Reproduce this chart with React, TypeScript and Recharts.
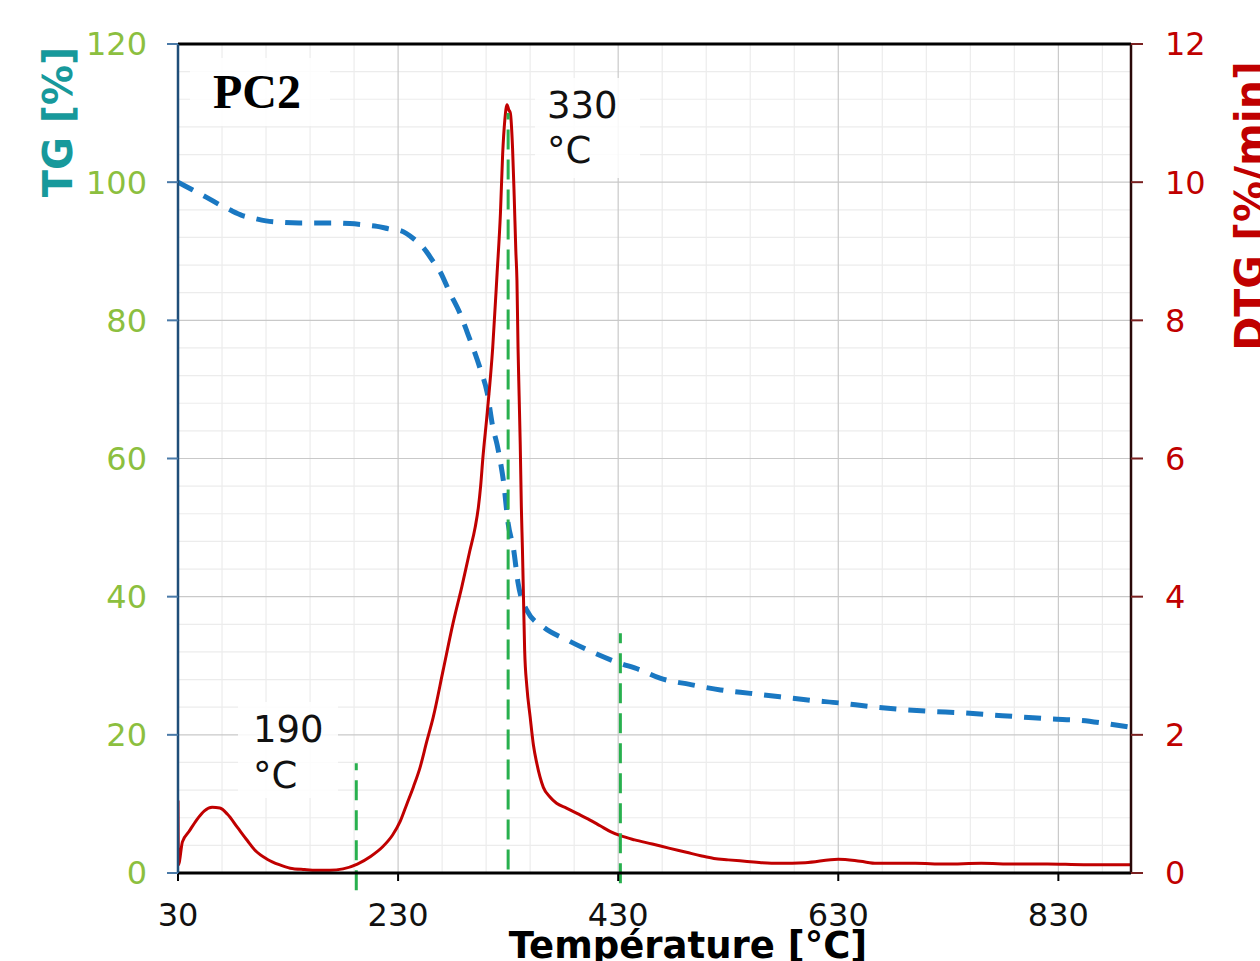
import { ComposedChart, Line, XAxis, YAxis, CartesianGrid, ReferenceLine } from 'recharts';

// DTG curve (derivative, %/min)
const dtgTemp = [
  30, 30.4, 34, 40, 47, 54, 61, 68, 75, 84, 93, 100, 111, 122, 132, 145, 156, 168, 180, 193,
  205, 216, 225, 232, 238, 244, 250, 256, 262, 271, 280, 288, 295, 300, 303, 305, 307, 311, 316, 320, 323,
  325, 327, 329, 330.5, 332, 334, 335.5, 337, 338, 339, 340, 341, 342, 343, 344, 345, 347, 350, 353, 356,
  362, 368, 374, 383, 393, 404, 414, 423, 432, 445, 461, 476, 492, 505, 517, 530, 545, 560, 576, 600,
  630, 650, 665, 700, 727, 760, 790, 820, 853, 875, 896,
];
const dtgRate = [
  1.05, 0.12, 0.45, 0.6, 0.77, 0.9, 0.95, 0.94, 0.85, 0.66, 0.47, 0.33, 0.2, 0.12, 0.07, 0.05, 0.04, 0.04, 0.06, 0.13,
  0.24, 0.38, 0.55, 0.75, 1.0, 1.25, 1.53, 1.9, 2.26, 2.94, 3.62, 4.15, 4.65, 5.0, 5.3, 5.6, 6.0, 6.66, 7.61, 8.69, 9.55,
  10.4, 10.9, 11.12, 11.05, 11.0, 10.5, 9.8, 9.0, 8.58, 7.6, 6.9, 6.2, 5.3, 4.68, 3.95, 3.23, 2.7, 2.26, 1.85, 1.59,
  1.24, 1.1, 1.01, 0.94, 0.86, 0.77, 0.68, 0.6, 0.54, 0.48, 0.42, 0.36, 0.3, 0.25, 0.21, 0.19, 0.17, 0.15, 0.14, 0.15,
  0.2, 0.17, 0.14, 0.14, 0.13, 0.14, 0.13, 0.13, 0.12, 0.12, 0.12,
];

// TG curve (mass, %)
const tgTemp = [
  30, 43, 56, 67, 77, 88, 98, 110, 123, 140, 156, 170, 186, 200, 211, 223, 232, 245, 253, 262,
  268, 277, 286, 293, 305, 311, 316, 320, 323, 326, 330, 335, 339, 347, 362, 384, 402, 429, 450, 468,
  495, 523, 550, 577, 605, 632, 659, 686, 714, 741, 768, 795, 823, 850, 875, 896,
];
const tgMass = [
  100, 98.9, 97.8, 96.8, 96, 95.2, 94.8, 94.4, 94.2, 94.1, 94.1, 94.1, 94.0, 93.8, 93.6, 93.2, 93.0, 91.7, 90.5, 88.5,
  87.1, 84, 81.1, 78.2, 72.8, 69.5, 64.6, 62, 59.5, 56.4, 50.6, 46.8, 42, 38, 35.6, 33.7, 32.3, 30.5, 29.4, 28.2,
  27.3, 26.5, 26, 25.5, 25, 24.6, 24.1, 23.7, 23.4, 23.2, 22.9, 22.6, 22.3, 22.1, 21.6, 21.1,
];

// green marker lines: temperature, top and bottom (in DTG units)
const markTemp = [192, 330, 432];
const markTop = [1.59, 11.0, 3.47];
const markBottom = [-0.25, 0.05, -0.15];

const xTicks = [30, 230, 430, 630, 830];
const tgTicks = [0, 20, 40, 60, 80, 100, 120];
const dtgTicks = [0, 2, 4, 6, 8, 10, 12];
const minorX = [70, 110, 150, 190, 270, 310, 350, 390, 470, 510, 550, 590, 670, 710, 750, 790, 870];
const minorY = [4, 8, 12, 16, 24, 28, 32, 36, 44, 48, 52, 56, 64, 68, 72, 76, 84, 88, 92, 96, 104, 108, 112, 116];

const dtgData = dtgTemp.map((t, i) => ({ t, v: dtgRate[i] }));
const tgData = tgTemp.map((t, i) => ({ t, v: tgMass[i] }));

const RED = '#c00000';
const GREEN_TICK = '#8cbf3f';
const TEAL = '#17999b';
const FONT = '"DejaVu Sans", Verdana, sans-serif';

export default function App() {
  return (
    <div style={{ position: 'absolute', left: 0, top: 0, width: 1260, height: 961, overflow: 'hidden', background: '#fff' }}>
      <ComposedChart width={1260} height={961} margin={{ top: 44, right: 0, bottom: 0, left: 0 }}>
        <CartesianGrid yAxisId="tg" stroke="#ececec" strokeWidth={1.2} verticalValues={minorX} horizontalValues={minorY} />
        <CartesianGrid yAxisId="tg" stroke="#c9c9c9" strokeWidth={1.2} verticalValues={xTicks} horizontalValues={tgTicks} />
        <XAxis
          type="number"
          dataKey="t"
          domain={[30, 896]}
          ticks={xTicks}
          allowDataOverflow
          height={88}
          tickSize={8}
          tickMargin={22}
          axisLine={{ stroke: '#000', strokeWidth: 3 }}
          tickLine={{ stroke: '#000', strokeWidth: 2 }}
          tick={{ fill: '#111', fontSize: 32, fontFamily: FONT }}
        />
        <YAxis
          yAxisId="tg"
          orientation="left"
          domain={[0, 120]}
          ticks={tgTicks}
          width={178}
          tickSize={11}
          tickMargin={20}
          axisLine={{ stroke: '#1f4e79', strokeWidth: 2.5 }}
          tickLine={{ stroke: '#4a7aa8', strokeWidth: 2 }}
          tick={{ fill: GREEN_TICK, fontSize: 32, fontFamily: FONT }}
        />
        <YAxis
          yAxisId="dtg"
          orientation="right"
          domain={[0, 12]}
          ticks={dtgTicks}
          width={129}
          tickSize={12}
          tickMargin={22}
          axisLine={{ stroke: '#2a0808', strokeWidth: 2.5 }}
          tickLine={{ stroke: '#7a2020', strokeWidth: 2 }}
          tick={{ fill: RED, fontSize: 32, fontFamily: FONT }}
        />
        <ReferenceLine yAxisId="tg" y={120} stroke="#000" strokeWidth={3} />
        <Line
          data={tgData}
          dataKey="v"
          yAxisId="tg"
          type="monotone"
          stroke="#1a78c2"
          strokeWidth={5}
          strokeDasharray="17 12"
          dot={false}
          isAnimationActive={false}
        />
        <Line
          data={dtgData}
          dataKey="v"
          yAxisId="dtg"
          type="monotone"
          stroke={RED}
          strokeWidth={3}
          dot={false}
          isAnimationActive={false}
        />
        {markTemp.map((t, i) => (
          <ReferenceLine
            key={t}
            yAxisId="dtg"
            segment={[{ x: t, y: markBottom[i] }, { x: t, y: markTop[i] }]}
            ifOverflow="visible"
            stroke="#28b04e"
            strokeWidth={3}
            strokeDasharray="20 10"
          />
        ))}
      </ComposedChart>
      <svg width={1260} height={961} style={{ position: 'absolute', left: 0, top: 0, pointerEvents: 'none' }}>
        <rect x={190} y={58} width={140} height={68} fill="#fff" opacity={0.85} />
        <rect x={535} y={78} width={105} height={100} fill="#fff" opacity={0.85} />
        <rect x={238} y={702} width={100} height={96} fill="#fff" opacity={0.85} />
        <text x={213} y={108} fontFamily='"Liberation Serif", "Times New Roman", serif' fontWeight="bold" fontSize={48} fill="#000">PC2</text>
        <text x={547} y={118} fontFamily={FONT} fontSize={37} fill="#111">330</text>
        <text x={547} y={163} fontFamily={FONT} fontSize={37} fill="#111">°C</text>
        <text x={253} y={742} fontFamily={FONT} fontSize={37} fill="#111">190</text>
        <text x={253} y={788} fontFamily={FONT} fontSize={37} fill="#111">°C</text>
        <text transform="translate(72,122) rotate(-90)" textAnchor="middle" fontFamily={FONT} fontWeight="bold" fontSize={40} fill={TEAL}>TG [%]</text>
        <text transform="translate(1264,206) rotate(-90)" textAnchor="middle" fontFamily={FONT} fontWeight="bold" fontSize={41} fill={RED}>DTG [%/min]</text>
        <text x={688} y={958} textAnchor="middle" fontFamily={FONT} fontWeight="bold" fontSize={37} fill="#000">Température [°C]</text>
      </svg>
    </div>
  );
}
